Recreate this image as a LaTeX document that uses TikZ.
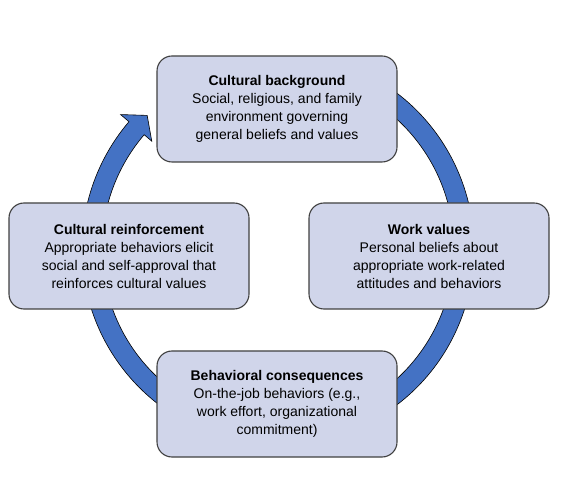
\documentclass[tikz,border=0pt]{standalone}
\usepackage{fontspec}
\setmainfont{Liberation Sans}
\definecolor{boxfill}{RGB}{208,213,234}
\definecolor{boxline}{RGB}{64,64,64}
\definecolor{cycleblue}{RGB}{68,114,196}
\begin{document}
\begin{tikzpicture}[x=1pt,y=1pt,
    stage/.style={draw=boxline,line width=1.1pt,rounded corners=15pt,fill=boxfill,
        minimum width=240pt,minimum height=106pt,align=center,
        font=\fontsize{14}{18}\selectfont}]
  \useasboundingbox (0,0) rectangle (561,476);
  \coordinate (hub) at (278,227);
  % circular arrow, drawn first so the boxes hide its start
  \begin{scope}[shift={(hub)}]
    \filldraw[fill=cycleblue,draw=black,line width=0.6pt,line join=miter]
      (70:196) arc[start angle=70,end angle=-220.5,radius=196]
      -- (-220.5:207) -- (-225.6:187) -- (-220.5:166) -- (-220.5:176)
      arc[start angle=-220.5,end angle=70,radius=176] -- cycle;
  \end{scope}
  \node[stage] (background) at (277,367)
    {\textbf{Cultural background}\\Social, religious, and family\\environment governing\\general beliefs and values};
  \node[stage] (values) at (429,220)
    {\textbf{Work values}\\Personal beliefs about\\appropriate work-related\\attitudes and behaviors};
  \node[stage] (consequences) at (277,72)
    {\textbf{Behavioral consequences}\\On-the-job behaviors (e.g.,\\work effort, organizational\\commitment)};
  \node[stage] (reinforcement) at (129,220)
    {\textbf{Cultural reinforcement}\\Appropriate behaviors elicit\\social and self-approval that\\reinforces cultural values};
\end{tikzpicture}
\end{document}
